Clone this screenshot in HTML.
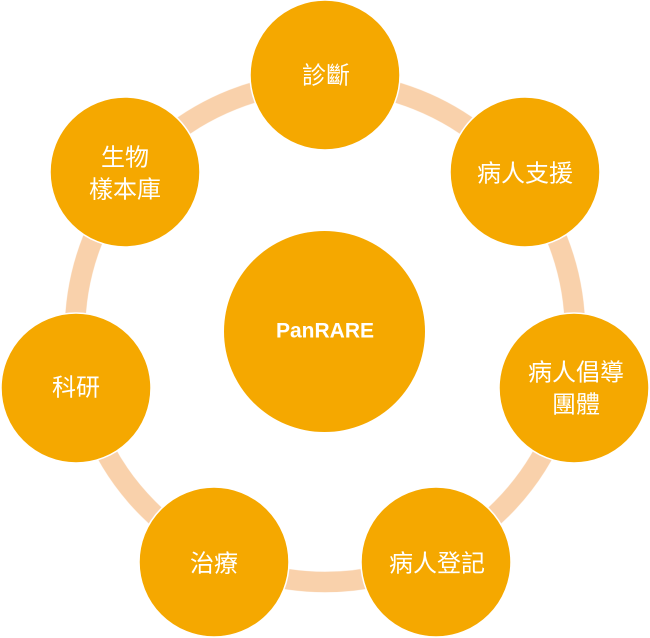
<!DOCTYPE html>
<html>
<head>
<meta charset="utf-8">
<style>
html,body{margin:0;padding:0;background:#fff;}
svg{display:block;}
.t{font-family:"Liberation Sans","Noto Sans CJK TC",sans-serif;font-size:24px;fill:#fff;text-anchor:middle;dominant-baseline:central;}
.c{fill:#F5A800;stroke:#fff;stroke-width:1.5;}
</style>
</head>
<body>
<svg width="650" height="638" viewBox="0 0 650 638" xmlns="http://www.w3.org/2000/svg">
  <circle cx="325" cy="332" r="250" fill="none" stroke="#F9D1AB" stroke-width="21"/>
  <circle cx="325" cy="332" r="260.5" fill="none" stroke="#fff" stroke-width="0.8" opacity="0.6"/>
  <circle cx="325" cy="332" r="239.5" fill="none" stroke="#fff" stroke-width="0.8" opacity="0.6"/>

  <circle class="c" cx="325" cy="75" r="75"/>
  <circle class="c" cx="525" cy="172" r="75"/>
  <circle class="c" cx="574" cy="388" r="75"/>
  <circle class="c" cx="436" cy="562" r="75"/>
  <circle class="c" cx="214" cy="562" r="75"/>
  <circle class="c" cx="76" cy="388" r="75"/>
  <circle class="c" cx="125" cy="172" r="75"/>

  <circle cx="324.5" cy="331.5" r="100.5" fill="#F5A800"/>
  <text x="325" y="331" style="font-family:'Liberation Sans',sans-serif;font-weight:bold;font-size:21px;fill:#fff;text-anchor:middle;dominant-baseline:central;">PanRARE</text>

  <text class="t" x="326" y="76">診斷</text>
  <text class="t" x="525" y="174">病人支援</text>
  <text class="t" x="576" y="373">病人倡導</text>
  <text class="t" x="576" y="405">團體</text>
  <text class="t" x="437" y="564">病人登記</text>
  <text class="t" x="214" y="564">治療</text>
  <text class="t" x="76" y="388">科研</text>
  <text class="t" x="125" y="158">生物</text>
  <text class="t" x="125" y="190">樣本庫</text>
</svg>
</body>
</html>
